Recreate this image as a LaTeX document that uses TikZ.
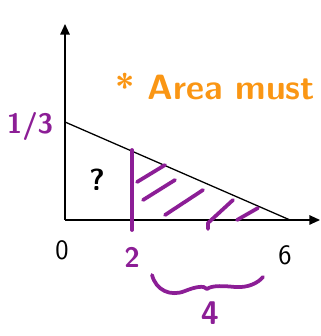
\documentclass[tikz,border=0pt]{standalone}
\usepackage{tkz-euclide}
\usetikzlibrary{arrows.meta}
\definecolor{InkClr}{RGB}{140,30,150}
\definecolor{NoteClr}{RGB}{250,150,20}
\tikzset{
  axis/.style={line width=1.2pt,-{Triangle[length=9pt,width=8pt]}},
  ink/.style={InkClr,line width=3.2pt,line cap=round,line join=round},
  inktext/.style={InkClr,font=\sffamily\bfseries\fontsize{24}{24}\selectfont},
  numtext/.style={font=\sffamily\fontsize{24}{24}\selectfont}
}

\begin{document}
\begin{tikzpicture}[x=0.3cm,y=0.3cm]
\useasboundingbox (0,0) rectangle (32,33.6);
\clip (0,0) rectangle (32,33.6);

\tkzDefPoint(6.5,11.6){O}
\tkzDefPoint(6.5,31.2){T}
\tkzDefPoint(32,11.6){R}
\tkzDefPoint(6.5,21.4){A}
\tkzDefPoint(29,11.6){B}
\tkzDefPoint(13.2,18.6){P}
\tkzDefPoint(13.2,10.6){Q}

% axes and line
\draw[axis] (O) -- (T);
\draw[axis] (O) -- (R);
\tkzDrawSegments[line width=1.1pt,color=black](A,B)

% shaded part
\draw[ink] (P) -- (Q);
\draw[ink] (13.7,15.4) -- (16.5,17.1);
\draw[ink] (14.3,13.6) -- (17.5,15.6);
\draw[ink] (16.5,12.1) -- (20.3,14.6);
\draw[ink] (20.8,10.7) -- (20.8,11.3) -- (23.3,13.6);
\draw[ink] (23.7,11.6) -- (25.8,12.8);

% brace under 2..6
\draw[ink] (15.2,6.1) .. controls (15.6,4.6) and (17.0,3.9) .. (18.5,4.5)
  .. controls (19.5,4.9) and (20.4,5.1) .. (20.7,4.7)
  .. controls (21.2,5.1) and (22.5,5.0) .. (23.5,4.9)
  .. controls (24.8,4.8) and (25.8,5.3) .. (26.3,5.9);

% labels
\node[numtext] (zero) at (6.2,8.6) {0};
\node[numtext] (six) at (28.5,8.1) {6};
\node[inktext] (two) at (13.2,7.9) {2};
\node[inktext,font=\sffamily\bfseries\fontsize{28}{28}\selectfont] (four) at (21,2.3) {4};
\node[inktext] (third) at (3.0,21.0) {1/3};
\node[font=\sffamily\bfseries\fontsize{26}{26}\selectfont] (ask) at (9.7,15.6) {?};
\node[anchor=base west,NoteClr,font=\sffamily\bfseries\fontsize{30}{30}\selectfont,inner sep=0pt] (note) at (11.5,23.6) {* Area must};

\end{tikzpicture}
\end{document}
